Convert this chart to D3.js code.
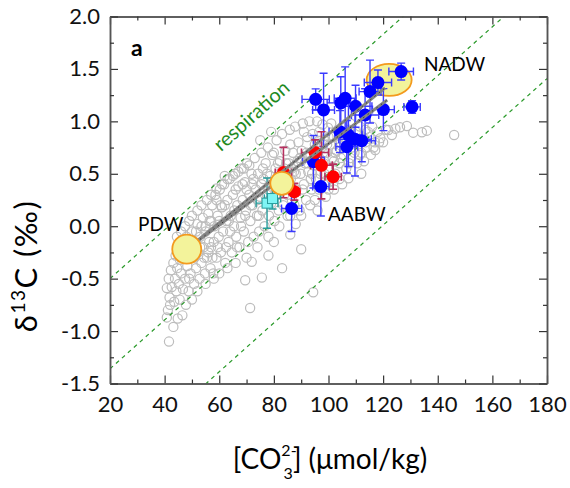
<!DOCTYPE html>
<html>
<head>
<meta charset="utf-8">
<script src="https://cdn.jsdelivr.net/npm/d3@7"></script>
<style>
  body { margin: 0; background: #fff; }
  text { font-family: Lato, "Open Sans", sans-serif; }
</style>
</head>
<body>
<script>
// gray open circles: modern water column data [CO3 2-], d13C
var grayPts = [
  [40.8,-0.59],[40.8,-0.87],[41.2,-0.8],[41.6,-1.1],[41.5,-0.5],[41.8,-0.68],[42,-0.75],[42.3,-0.42],[42.6,-0.58],[43.2,-0.96],
  [43.2,-0.35],[43.5,-0.72],[43.8,-0.5],[44,-0.28],[44.3,-0.62],[44.6,-0.4],[45,-0.2],[45.2,-0.55],[45.6,-0.32],[46,-0.45],
  [46.3,-0.15],[46.7,-0.6],[47,-0.3],[47.5,-0.5],[48,-0.1],[48.3,-0.38],[48.8,-0.62],[49,-0.25],[49.5,-0.45],[50,-0.05],
  [50.3,-0.3],[50.8,-0.55],[51,-0.15],[51.5,-0.4],[52,0.02],[52.3,-0.25],[52.8,-0.5],[53,-0.1],[53.5,-0.35],[54,0.08],
  [54.3,-0.2],[54.8,-0.45],[55,-0.05],[55.5,-0.3],[56,0.12],[56.3,-0.15],[56.8,-0.4],[57,-0.2],[57.4,0.2],[57.8,-0.45],
  [58.2,0.0],[58.6,0.3],[59,-0.3],[59.4,0.1],[59.8,-0.1],[60.2,0.35],[60.6,-0.25],[61,0.18],[61.4,-0.05],[61.8,0.4],
  [62.2,-0.35],[62.6,0.05],[63,0.25],[63.4,-0.15],[63.8,0.45],[64.2,0.1],[64.6,-0.25],[65,0.3],[65.4,0.0],[65.8,0.5],
  [66.2,-0.1],[66.6,0.2],[67,0.38],[67.4,-0.2],[67.8,0.08],[68.2,0.55],[68.6,0.25],[69,-0.05],[69.4,0.42],[69.8,0.15],
  [70.2,0.6],[70.6,-0.15],[71,0.3],[71.4,0.05],[71.8,0.5],[72.2,0.2],[72.6,-0.1],[73,0.65],[73.4,0.35],[73.8,0.1],
  [74.2,0.5],[74.6,-0.05],[75,0.28],[75.4,0.7],[75.8,0.15],[76.2,0.45],[76.6,0.0],[77,0.6],[77.4,0.3],[77.8,0.75],
  [78.2,0.1],[78.6,0.48],[79,0.22],[79.4,0.68],[79.8,0.38],[80.2,0.05],[80.6,0.55],[81,0.82],[81.4,0.3],[81.8,0.15],
  [82.2,0.62],[82.6,0.42],[83,0.88],[83.4,0.2],[83.8,0.55],[84.2,0.72],[84.6,0.35],[85,0.1],[85.4,0.6],[85.8,0.92],
  [86.2,0.45],[86.6,0.25],[87,0.7],[87.4,0.52],[87.8,0.95],[88.2,0.35],[88.6,0.62],[89,0.8],[89.4,0.15],[89.8,0.5],
  [90.2,0.72],[90.6,0.98],[91,0.4],[91.4,0.6],[91.8,0.25],[92.2,0.85],[92.6,0.52],[93,1.0],[93.3,0.2],[93.4,0.68],
  [93.8,0.35],[94.2,0.88],[94.6,0.58],[95,0.78],[95.4,0.45],[95.8,1.0],[96.2,0.65],[96.6,0.9],[97,0.5],[97.4,0.75],
  [97.8,0.97],[98.2,0.6],[98.6,0.82],[99,0.4],[99.4,0.7],[99.8,0.94],[100.2,0.55],[100.6,0.78],[101,0.98],[101.5,0.65],
  [102,0.85],[102.5,0.5],[103,0.72],[103.5,0.92],[104,0.6],[104.5,0.8],[105,0.95],[105.5,0.68],[106,0.85],[106.5,0.55],
  [107,0.75],[107.3,0.457],[107.5,0.92],[108,0.65],[109,0.82],[109.5,0.7],[110,0.9],[110.5,0.6],[111,0.78],[111.5,0.95],
  [112,0.7],[112.5,0.85],[113,0.62],[113.5,0.92],[114,0.75],[115,0.85],[115.5,0.68],[116,0.95],[117,0.8],[117.1,0.727],
  [118,0.9],[119,0.84],[120,0.8],[121,0.92],[121.9,0.918],[123.2,0.87],[124.5,0.93],[126.2,0.944],[128.7,0.956],[131,0.892],
  [134.2,0.896],[136,0.911],[146,0.87],
  // below the main band
  [69.5,-0.515],[71.3,-0.78],[71.9,-0.34],[75.6,-0.49],[78,-0.28],[80,-0.15],[83,-0.4],[86,-0.08],[90,-0.22],[94.4,-0.63],
  [88,0.02],[96,0.15],[99,0.28],[102,0.35],[105,0.4],[112,0.5],
  // extra density inside the band
  [47,-0.2],[49,-0.5],[51,-0.3],[53,-0.2],[55,0.0],[56,-0.25],[58,-0.15],[60,0.05],[62,0.2],[64,-0.05],
  [66,0.35],[68,0.0],[70,0.35],[72,0.4],[74,0.25],[76,0.55],[78,0.35],[80,0.7],[82,0.5],[84,0.45],
  [86,0.78],[88,0.5],[90,0.62],[92,0.7],[94,0.5],[96,0.8],[98,0.7],[100,0.85],[102,0.62],[104,0.75],
  [62,0.48],[59,0.25],[57,0.05],[75,0.82],[79,0.9],[85,0.3],[91,0.9],[97,0.58],[101,0.45],[108,0.98],
  [44.5,-0.1],[46,-0.05],[47.5,0.0],[49,0.05],[50,0.1],[52,0.15],[53.5,0.2],[55.5,0.25],[57,0.3],[59,0.36],
  [61,0.4],[63,0.45],[65,0.48],[67,0.52],[69,0.55],[71,0.58],
  [50,-0.7],[52,-0.62],[55,-0.55],[58,-0.5],[60,-0.45],[63,-0.4],[66,-0.35],[70,-0.3],[74,-0.2],[78,-0.1],
  [82,0.0],[86,0.1],[90,0.1],[95,0.25],[100,0.35],[104,0.45],
  [45.5,-0.7],[47.8,-0.75],[46.5,-0.85],[44.8,-0.88],
  [50.5,-0.2],[51.5,-0.05],[53.5,0.0],[54.5,-0.3],[56.5,0.05],[57.5,-0.3],[59.5,-0.2],[60.5,0.2],[62.5,-0.2],[63.5,0.05],
  [65.5,0.15],[66.5,-0.2],[68.5,0.4],[69.5,0.1],[71.5,0.2],[72.5,0.45],[74.5,0.1],[75.5,0.4],[77.5,0.5],[78.5,0.25],
  [80.5,0.3],[81.5,0.6],[83.5,0.35],[84.5,0.6],[86.5,0.55],[87.5,0.2],[89.5,0.65],[90.5,0.35],[92.5,0.6],[93.5,0.45],
  [95.5,0.65],[96.5,0.35],[98.5,0.5],[99.5,0.78],[101.5,0.85],[102.5,0.7],[104.5,0.65],[105.5,0.85],[107.5,0.6],[108.5,0.75],
  [110.5,0.8],[111.5,0.68],[113.5,0.8],[114.5,0.9],[116.5,0.75],[118.5,0.8]
];

// foraminifera data: blue, red, cyan (x, y, x error, y error)
var blueX  = [126.6, 118.1, 115.2, 95.3, 98.2, 104.5, 106.1, 109.9, 113.4, 120.1, 130.6, 107.3, 109.7, 106.7, 112.2, 104.2, 97.2, 94.5, 86.5];
var blueY  = [1.475, 1.37, 1.284, 1.21, 1.109, 1.176, 1.22, 1.144, 1.061, 1.112, 1.138, 0.87, 0.829, 0.758, 0.815, 0.902, 0.378, 0.615, 0.17];
var blueEX = [4.5, 5, 4, 5, 4, 5, 4, 6, 5, 4, 3, 5, 6, 4, 5, 4, 3, 4, 3.7];
var blueEY = [0.08, 0.12, 0.3, 0.1, 0.35, 0.25, 0.3, 0.2, 0.25, 0.2, 0.06, 0.3, 0.35, 0.25, 0.2, 0.2, 0.28, 0.25, 0.22];

var redX  = [83.5, 87.5, 95.1, 97.4, 101.7];
var redY  = [0.512, 0.329, 0.703, 0.581, 0.472];
var redEX = [3, 2, 5, 4, 3];
var redEY = [0.24, 0.08, 0.12, 0.32, 0.12];

var cyanX  = [77.5, 79.5];
var cyanY  = [0.22, 0.264];
var cyanEX = [4, 3];
var cyanEY = [0.24, 0.1];

// end members
var endNames = ["NADW", "AABW", "PDW"];
var endX = [122.2, 82.9, 48.1];
var endY = [1.395, 0.409, -0.219];

// respiration lines: d13C at 20 umol/kg, slope per umol/kg
var respIntercepts = [-0.5, -1.36, -2.32];
var respSlope = 0.0233;

// mixing lines from PDW
var mixEndX = [120.7, 121.5];
var mixEndY = [1.319, 1.204];

var xTicks = [20, 40, 60, 80, 100, 120, 140, 160, 180];
var yTicks = [-1.5, -1.0, -0.5, 0.0, 0.5, 1.0, 1.5, 2.0];

var width = 570, height = 488;
var mLeft = 110, mRight = 547, mTop = 16.5, mBottom = 383.5;

var svg = d3.select("body").append("svg")
  .attr("width", width)
  .attr("height", height);

var x = d3.scaleLinear().domain([20, 180]).range([mLeft, mRight]);
var y = d3.scaleLinear().domain([-1.5, 2]).range([mBottom, mTop]);

svg.append("defs").append("clipPath").attr("id", "clip")
  .append("rect").attr("x", mLeft).attr("y", mTop)
  .attr("width", mRight - mLeft).attr("height", mBottom - mTop);

var plot = svg.append("g").attr("clip-path", "url(#clip)");

// gray cloud
plot.selectAll("circle.gray")
  .data(grayPts)
  .enter().append("circle")
  .attr("class", "gray")
  .attr("cx", function(d) { return x(d[0]); })
  .attr("cy", function(d) { return y(d[1]); })
  .attr("r", 4.6)
  .attr("fill", "none")
  .attr("stroke", "#bdbdbd")
  .attr("stroke-width", 1.2);

// respiration lines
respIntercepts.forEach(function(b) {
  plot.append("line")
    .attr("x1", x(20)).attr("y1", y(b))
    .attr("x2", x(180)).attr("y2", y(b + respSlope * 160))
    .attr("stroke", "#2a9a2a")
    .attr("stroke-width", 1.2)
    .attr("stroke-dasharray", "4,4");
});

// NADW ellipse sits under the points
plot.append("ellipse")
  .attr("cx", x(endX[0])).attr("cy", y(endY[0]))
  .attr("rx", 22.5).attr("ry", 16)
  .attr("fill", "#f3f39b")
  .attr("stroke", "#f39a1e")
  .attr("stroke-width", 1.8);

function errorBars(xs, ys, exs, eys, color, width) {
  var g = plot.append("g").attr("stroke", color).attr("stroke-width", width).attr("fill", "none");
  var cap = 4;
  xs.forEach(function(v, i) {
    var cx = x(v), cy = y(ys[i]);
    var xa = x(v - exs[i]), xb = x(v + exs[i]);
    var ya = y(ys[i] - eys[i]), yb = y(ys[i] + eys[i]);
    g.append("line").attr("x1", xa).attr("x2", xb).attr("y1", cy).attr("y2", cy);
    g.append("line").attr("x1", xa).attr("x2", xa).attr("y1", cy - cap).attr("y2", cy + cap);
    g.append("line").attr("x1", xb).attr("x2", xb).attr("y1", cy - cap).attr("y2", cy + cap);
    g.append("line").attr("x1", cx).attr("x2", cx).attr("y1", ya).attr("y2", yb);
    g.append("line").attr("x1", cx - cap).attr("x2", cx + cap).attr("y1", ya).attr("y2", ya);
    g.append("line").attr("x1", cx - cap).attr("x2", cx + cap).attr("y1", yb).attr("y2", yb);
  });
}

errorBars(blueX, blueY, blueEX, blueEY, "#3a3aff", 1.4);
errorBars(redX, redY, redEX, redEY, "#b5305e", 1.6);
errorBars(cyanX, cyanY, cyanEX, cyanEY, "#2a9d9d", 1.4);

plot.selectAll("circle.blue")
  .data(blueX)
  .enter().append("circle")
  .attr("cx", function(d) { return x(d); })
  .attr("cy", function(d, i) { return y(blueY[i]); })
  .attr("r", 6.5)
  .attr("fill", "#0000ff");

plot.selectAll("circle.red")
  .data(redX)
  .enter().append("circle")
  .attr("cx", function(d) { return x(d); })
  .attr("cy", function(d, i) { return y(redY[i]); })
  .attr("r", 6.5)
  .attr("fill", "#ff0000");

plot.selectAll("rect.cyan")
  .data(cyanX)
  .enter().append("rect")
  .attr("x", function(d) { return x(d) - 5; })
  .attr("y", function(d, i) { return y(cyanY[i]) - 5; })
  .attr("width", 10).attr("height", 10)
  .attr("fill", "#7ff5f5")
  .attr("stroke", "#2a9d9d")
  .attr("stroke-width", 1);

// mixing lines
mixEndX.forEach(function(v, i) {
  plot.append("line")
    .attr("x1", x(endX[2])).attr("y1", y(endY[2]))
    .attr("x2", x(v)).attr("y2", y(mixEndY[i]))
    .attr("stroke", "#858585")
    .attr("stroke-width", 3);
  plot.append("line")
    .attr("x1", x(endX[2])).attr("y1", y(endY[2]))
    .attr("x2", x(v)).attr("y2", y(mixEndY[i]))
    .attr("stroke", "#222")
    .attr("stroke-width", 0.8)
    .attr("stroke-dasharray", "1.5,4");
});

// AABW and PDW end members
plot.append("circle")
  .attr("cx", x(endX[1])).attr("cy", y(endY[1]))
  .attr("r", 11.5)
  .attr("fill", "#f3f39b")
  .attr("stroke", "#f39a1e")
  .attr("stroke-width", 1.8);
plot.append("circle")
  .attr("cx", x(endX[2])).attr("cy", y(endY[2]))
  .attr("r", 14.5)
  .attr("fill", "#f3f39b")
  .attr("stroke", "#f39a1e")
  .attr("stroke-width", 1.8);

// axes
var fmtY = function(d) { return d.toFixed(1); };
var minorX = d3.range(30, 180, 20);
var minorY = d3.range(-1.25, 2, 0.5);

function styleAxis(g) {
  g.selectAll("path").attr("stroke", "#555").attr("stroke-width", 1.5);
  g.selectAll("line").attr("stroke", "#333").attr("stroke-width", 1.2);
  g.selectAll("text").attr("font-size", 22).attr("fill", "#111").style("font-family", "Lato");
}

svg.append("g").attr("transform", "translate(0," + mBottom + ")")
  .call(d3.axisBottom(x).tickValues(xTicks).tickSize(-8).tickSizeOuter(0).tickPadding(13).tickFormat(d3.format("d")))
  .call(styleAxis);
svg.append("g").attr("transform", "translate(0," + mBottom + ")")
  .call(d3.axisBottom(x).tickValues(minorX).tickSize(-4).tickSizeOuter(0).tickFormat(""))
  .call(styleAxis);
svg.append("g").attr("transform", "translate(0," + mTop + ")")
  .call(d3.axisTop(x).tickValues(xTicks).tickSize(-8).tickSizeOuter(0).tickFormat(""))
  .call(styleAxis);
svg.append("g").attr("transform", "translate(0," + mTop + ")")
  .call(d3.axisTop(x).tickValues(minorX).tickSize(-4).tickSizeOuter(0).tickFormat(""))
  .call(styleAxis);
svg.append("g").attr("transform", "translate(" + mLeft + ",0)")
  .call(d3.axisLeft(y).tickValues(yTicks).tickSize(-8).tickSizeOuter(0).tickPadding(10).tickFormat(fmtY))
  .call(styleAxis);
svg.append("g").attr("transform", "translate(" + mLeft + ",0)")
  .call(d3.axisLeft(y).tickValues(minorY).tickSize(-4).tickSizeOuter(0).tickFormat(""))
  .call(styleAxis);
svg.append("g").attr("transform", "translate(" + mRight + ",0)")
  .call(d3.axisRight(y).tickValues(yTicks).tickSize(-8).tickSizeOuter(0).tickFormat(""))
  .call(styleAxis);
svg.append("g").attr("transform", "translate(" + mRight + ",0)")
  .call(d3.axisRight(y).tickValues(minorY).tickSize(-4).tickSizeOuter(0).tickFormat(""))
  .call(styleAxis);

// labels
svg.append("text").attr("x", 131).attr("y", 56)
  .attr("font-size", 23).attr("font-weight", "bold").text("a");

svg.append("text").attr("x", 424).attr("y", 71).attr("font-size", 19).text(endNames[0]);
svg.append("text").attr("x", 328).attr("y", 221).attr("font-size", 19).text(endNames[1]);
svg.append("text").attr("x", 138).attr("y", 231).attr("font-size", 19).text(endNames[2]);

svg.append("text")
  .attr("transform", "translate(256,121) rotate(-41.8)")
  .attr("text-anchor", "middle")
  .attr("font-size", 20)
  .attr("fill", "#1e8a1e")
  .text("respiration");

// y title
var yt = svg.append("text")
  .attr("transform", "translate(37,266) rotate(-90)")
  .attr("text-anchor", "middle")
  .attr("font-size", 31)
  .attr("letter-spacing", 1.5);
yt.append("tspan").text("δ");
yt.append("tspan").attr("font-size", 19).attr("dy", -12).text("13");
yt.append("tspan").attr("dy", 12).text("C  (‰)");

// x title
var xt = svg.append("text")
  .attr("x", 330).attr("y", 469)
  .attr("text-anchor", "middle")
  .attr("font-size", 28);
xt.append("tspan").text("[CO");
xt.append("tspan").attr("font-size", 16).attr("dy", -13).text("2-");
xt.append("tspan").attr("font-size", 16).attr("dx", -13).attr("dy", 23).text("3");
xt.append("tspan").attr("dy", -10).text("] (μmol/kg)");
</script>
</body>
</html>
